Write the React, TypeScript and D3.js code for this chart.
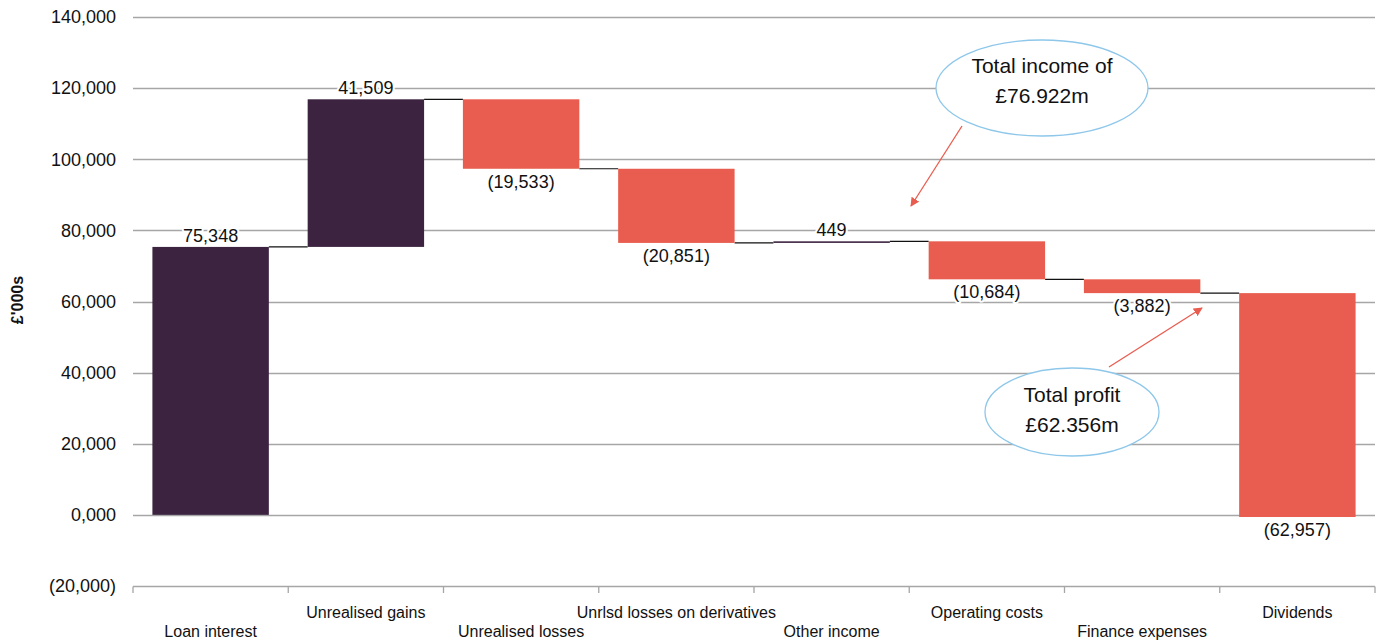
import React from "react";
import * as d3 from "d3";

const categories = [
  "Loan interest",
  "Unrealised gains",
  "Unrealised losses",
  "Unrlsd losses on derivatives",
  "Other income",
  "Operating costs",
  "Finance expenses",
  "Dividends",
];
const changes = [75348, 41509, -19533, -20851, 449, -10684, -3882, -62957];
const yTicks = [-20000, 0, 20000, 40000, 60000, 80000, 100000, 120000, 140000];
const incomeNote = ["Total income of", "£76.922m"];
const profitNote = ["Total profit", "£62.356m"];

const W = 1378;
const H = 641;
const FONT = "'Liberation Sans', Arial, Helvetica, sans-serif";
const DARK = "#3C2441";
const RED = "#E85D4F";
const GRID = "#A6A6A6";

function fmtTick(v: number) {
  if (v === 0) return "0,000";
  const s = d3.format(",")(Math.abs(v));
  return v < 0 ? `(${s})` : s;
}
function fmtVal(v: number) {
  const s = d3.format(",")(Math.abs(v));
  return v < 0 ? `(${s})` : s;
}

export default function App() {
  const x = d3
    .scaleBand<string>()
    .domain(categories)
    .range([133, 1375])
    .paddingInner(0.25)
    .paddingOuter(0.125);
  const y = d3.scaleLinear().domain([-20000, 140000]).range([586, 17]);

  let run = 0;
  const bars = changes.map((c, i) => {
    const start = run;
    run += c;
    return { cat: categories[i], start, end: run, c, i };
  });

  const step = x.step();
  const bandEdges = d3.range(categories.length + 1).map((i) => 133 + i * step);

  return (
    <svg
      width={W}
      height={H}
      style={{ position: "absolute", left: 0, top: 0, background: "#fff" }}
      fontFamily={FONT}
    >
      <defs>
        <marker
          id="arr"
          viewBox="0 0 10 10"
          refX="9"
          refY="5"
          markerWidth="9"
          markerHeight="9"
          markerUnits="userSpaceOnUse"
          orient="auto"
        >
          <path d="M0,0 L10,5 L0,10 z" fill={RED} />
        </marker>
      </defs>
      {yTicks.map((t) => (
        <line
          key={t}
          x1={133}
          x2={1375}
          y1={Math.round(y(t)) + 0.5}
          y2={Math.round(y(t)) + 0.5}
          stroke={GRID}
          strokeWidth={1.3}
        />
      ))}
      {bandEdges.map((e, i) => (
        <line
          key={i}
          x1={e}
          x2={e}
          y1={Math.round(y(-20000)) + 0.5}
          y2={Math.round(y(-20000)) + 7}
          stroke={GRID}
          strokeWidth={1.3}
        />
      ))}
      {yTicks.map((t) => (
        <text
          key={t}
          x={116}
          y={y(t)}
          dy="0.35em"
          textAnchor="end"
          fontSize={18}
          fill="#111"
        >
          {fmtTick(t)}
        </text>
      ))}
      <text
        transform={`translate(23,${300}) rotate(-90)`}
        textAnchor="middle"
        fontSize={16}
        fontWeight="bold"
        fill="#111"
      >
        £'000s
      </text>
      {bars.slice(0, -1).map((b) => {
        const x1 = (x(b.cat) as number) + x.bandwidth();
        const x2 = x(categories[b.i + 1]) as number;
        return (
          <line
            key={"c" + b.i}
            x1={x1}
            x2={x2}
            y1={y(b.end)}
            y2={y(b.end)}
            stroke="#111"
            strokeWidth={1.2}
          />
        );
      })}
      {bars.map((b) => (
        <rect
          key={b.cat}
          x={x(b.cat)}
          width={x.bandwidth()}
          y={y(Math.max(b.start, b.end))}
          height={Math.max(1, Math.abs(y(b.start) - y(b.end)))}
          fill={b.c >= 0 ? DARK : RED}
        />
      ))}
      {bars.map((b) => {
        const cx = (x(b.cat) as number) + x.bandwidth() / 2;
        const top = y(Math.max(b.start, b.end));
        const bot = y(Math.min(b.start, b.end));
        const ly = b.c >= 0 ? top - 5 : bot + 19;
        return (
          <text
            key={"v" + b.i}
            x={cx}
            y={ly}
            textAnchor="middle"
            fontSize={18}
            fill="#111"
            stroke="#fff"
            strokeWidth={4}
            paintOrder="stroke"
            strokeLinejoin="round"
          >
            {fmtVal(b.c)}
          </text>
        );
      })}
      {categories.map((c, i) => (
        <text
          key={c}
          x={(x(c) as number) + x.bandwidth() / 2}
          y={i % 2 === 0 ? 637 : 618}
          textAnchor="middle"
          fontSize={16}
          fill="#111"
        >
          {c}
        </text>
      ))}
      <ellipse cx={1042} cy={88} rx={106} ry={48} fill="#fff" stroke="#8EC7EA" strokeWidth={1.3} />
      <text x={1042} y={73} textAnchor="middle" fontSize={21} fill="#111">
        {incomeNote[0]}
      </text>
      <text x={1042} y={103} textAnchor="middle" fontSize={21} fill="#111">
        {incomeNote[1]}
      </text>
      <line x1={962} y1={126} x2={911} y2={206} stroke={RED} strokeWidth={1.3} markerEnd="url(#arr)" />
      <ellipse cx={1072} cy={412} rx={87} ry={44} fill="#fff" stroke="#8EC7EA" strokeWidth={1.3} />
      <text x={1072} y={402} textAnchor="middle" fontSize={21} fill="#111">
        {profitNote[0]}
      </text>
      <text x={1072} y={432} textAnchor="middle" fontSize={21} fill="#111">
        {profitNote[1]}
      </text>
      <line x1={1109} y1={367} x2={1202} y2={308} stroke={RED} strokeWidth={1.3} markerEnd="url(#arr)" />
    </svg>
  );
}
